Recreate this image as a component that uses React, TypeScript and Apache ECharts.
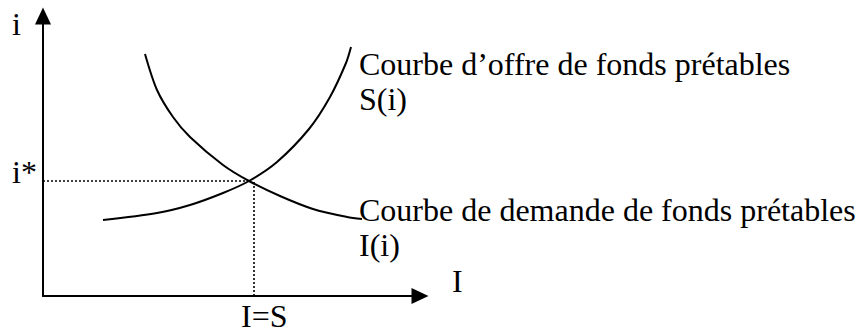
import React, { useEffect, useRef } from "react";
import * as echarts from "echarts";

// Curves (horizontal = quantity I, vertical = interest rate i), in chart units
const supplyI = [60, 114, 147, 180, 206, 234, 266, 287, 303, 308];
const supplyRate = [76, 83, 91, 103, 115, 134, 167, 199, 233, 249];
const demandI = [102, 114, 130, 147, 180, 206, 237, 270, 304, 319];
const demandRate = [242, 206, 179, 159, 131, 115, 100, 87, 79, 77];

// Equilibrium guide lines
const rateGuideI = [0, 206];
const rateGuideRate = [115, 115];
const qtyGuideI = [211, 211];
const qtyGuideRate = [0, 115];

// Texts
const yAxisName = "i";
const xAxisName = "I";
const rateLabel = "i*";
const qtyLabel = "I=S";
const supplyLabel = ["Courbe d\u2019offre de fonds prétables", "S(i)"];
const demandLabel = ["Courbe de demande de fonds prétables", "I(i)"];

const xMax = 377;
const yMax = 280;

const zip = (a: number[], b: number[]) => a.map((v, i) => [v, b[i]]);

const FONT = "Liberation Serif, Times New Roman, serif";

export default function App() {
  const ref = useRef<HTMLDivElement>(null);
  useEffect(() => {
    if (!ref.current) return;
    const chart = echarts.init(ref.current, undefined, { renderer: "svg" });
    const axisCommon = {
      type: "value" as const,
      min: 0,
      axisTick: { show: false },
      axisLabel: { show: false },
      splitLine: { show: false },
    };
    const txt = (text: string, x: number, y: number, va: string, lh?: number) => ({
      type: "text",
      x,
      y,
      style: {
        text,
        fill: "#000",
        fontFamily: FONT,
        fontSize: 32,
        lineHeight: lh ?? 32,
        align: "left",
        verticalAlign: va,
      },
    });
    const curve = (xs: number[], ys: number[]) => ({
      type: "line",
      data: zip(xs, ys),
      smooth: 0.3,
      showSymbol: false,
      lineStyle: { color: "#000", width: 2 },
      silent: true,
    });
    const guide = (xs: number[], ys: number[]) => ({
      type: "line",
      data: zip(xs, ys),
      showSymbol: false,
      lineStyle: { color: "#000", width: 1.6, type: [2, 2] },
      silent: true,
    });
    const axisLine = {
      show: true,
      onZero: false,
      lineStyle: { color: "#000", width: 2 },
      symbol: ["none", "triangle"],
      symbolSize: [16, 17],
    };
    chart.setOption({
      animation: false,
      backgroundColor: "#fff",
      grid: { left: 43, right: 436, top: 16, bottom: 37, containLabel: false },
      xAxis: { ...axisCommon, max: xMax, axisLine },
      yAxis: { ...axisCommon, max: yMax, axisLine },
      series: [
        curve(supplyI, supplyRate),
        curve(demandI, demandRate),
        guide(rateGuideI, rateGuideRate),
        guide(qtyGuideI, qtyGuideRate),
      ],
      graphic: [
        txt(yAxisName, 12, 24, "middle"),
        txt(xAxisName, 452, 281, "middle"),
        txt(rateLabel, 12, 172, "middle"),
        txt(qtyLabel, 241, 316, "middle", 24),
        txt(supplyLabel.join("\n"), 359, 46, "top", 35),
        txt(demandLabel.join("\n"), 359, 192, "top", 35),
      ],
    });
    return () => chart.dispose();
  }, []);
  return (
    <div
      ref={ref}
      style={{ position: "fixed", left: 0, top: 0, width: 856, height: 333 }}
    />
  );
}
